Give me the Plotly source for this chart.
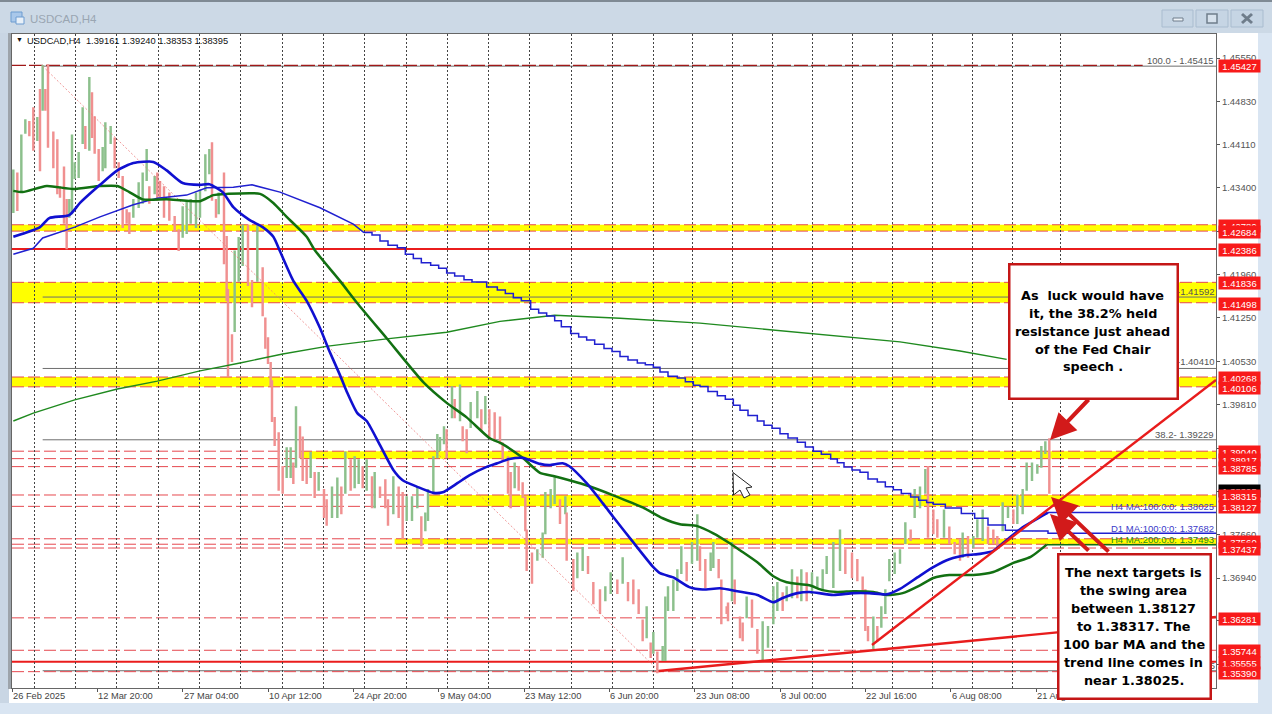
import plotly.graph_objects as go

W, H = 1272, 714
L, R, T, B = 12, 1216, 34, 688

# ---------- data ----------
bars = [1,4,7,10,13,16,19,21,23,25,27,31,34,36,39,41,43,45,47,50,53,55,58,60,62,65,68,70,74,77,80,83,86,88,91,95,98,101,103,107,109,111,114,118,122,125,128,131,134,138,141,145,148,150,153,155,159,161,162,165,167,170,173,177,180,184,188,190,192,194,195,197,200,203,206,209,211,213,216,218,221,224,227,230,234,236,240,244,247,250,254,257,260,263,266,270,272,276,280,282,286,290,293,296,300,304,307,310,312,316,319,321,324,326,330,332,336,338,341,344,349,352,355,358,362,366,368,372,374,377,380,383,385,386,390,394,398,400,404,407,411,415,416,421,424,428,432,436,441,445,449,454,458,462,466,470,473,476,479,481,484,488,490,492,496,499,502,506,510,514,516,520,524,526,530,532,536,537,540,542,546,548,551,555,559,563,567,571,574,578,581,585,589,592,596,600,604,608,611,616,621,625,630,634,638,640,642,646,649,652,655,658,662,666,670,674,677,681,685,687,691,694,699,703,707,711,713,717,721,724,728,732,736,739,743,747,751,754,758,761,765,769,772,775,778]
highs = [14369,14364,14427,14452,14449,14472,14456,14502,14542,14502,14543,14432,14419,14341,14374,14320,14320,14427,14381,14398,14472,14441,14522,14497,14457,14403,14406,14447,14441,14422,14381,14358,14303,14298,14320,14348,14364,14403,14341,14358,14364,14350,14341,14331,14292,14270,14308,14315,14320,14331,14336,14394,14403,14414,14320,14331,14364,14259,14171,14096,14235,14257,14278,14278,14186,14278,14207,14124,14091,14050,14020,13959,13934,13878,13909,13909,13884,13977,13944,13927,13889,13901,13868,13868,13840,13823,13844,13859,13844,13902,13889,13894,13889,13878,13889,13861,13868,13844,13856,13823,13861,13844,13835,13828,13828,13844,13795,13801,13840,13894,13931,13926,13944,13939,14010,13989,14013,13944,13939,13984,14002,13972,13994,13972,13967,13960,13917,13894,13868,13884,13878,13851,13828,13773,13735,13740,13768,13835,13840,13861,13823,13828,13801,13724,13735,13744,13729,13686,13674,13679,13702,13690,13727,13686,13690,13674,13624,13646,13586,13603,13571,13580,13662,13679,13690,13707,13745,13719,13752,13798,13745,13724,13735,13752,13724,13690,13646,13652,13752,13690,13629,13619,13662,13657,13608,13621,13613,13679,13686,13669,13679,13707,13695,13707,13702,13702,13695,13707,13729,13752,13773,13740,13735,13724,13695,13674,13613,13629,13613,13646,13674,13724,13735,13740,13785,13773,13840,13844,13873,13878,13806,13790,13806,13778,13752,13757,13768,13762,13762,13790,13806,13778,13773,13762,13818,13811,13806,13831,13840,13884,13884,13881,13911,13919,13924]
lows = [14300,14303,14336,14431,14427,14403,14419,14369,14469,14469,14408,14374,14331,14325,14282,14240,14292,14298,14356,14358,14414,14406,14403,14424,14398,14353,14369,14374,14414,14374,14358,14275,14282,14265,14292,14308,14315,14353,14315,14331,14320,14325,14292,14287,14270,14237,14259,14265,14282,14275,14292,14336,14364,14320,14292,14298,14215,14154,14028,14053,14103,14186,14212,14179,14144,14186,14129,14075,14050,14013,13954,13914,13840,13835,13861,13861,13851,13878,13894,13856,13851,13861,13828,13840,13795,13782,13795,13795,13801,13835,13840,13844,13851,13844,13840,13811,13811,13828,13811,13782,13801,13795,13760,13790,13790,13811,13748,13773,13790,13835,13894,13906,13917,13894,13960,13960,13955,13922,13902,13944,13960,13939,13950,13927,13922,13917,13889,13835,13811,13844,13840,13828,13773,13707,13686,13724,13729,13768,13811,13818,13785,13801,13724,13674,13695,13707,13702,13652,13636,13657,13669,13669,13686,13657,13652,13636,13591,13596,13563,13570,13538,13558,13558,13641,13641,13674,13702,13690,13719,13724,13707,13679,13707,13712,13695,13619,13636,13624,13657,13652,13596,13591,13629,13613,13570,13558,13580,13619,13641,13641,13657,13662,13662,13657,13657,13669,13679,13674,13702,13679,13707,13702,13695,13690,13674,13608,13591,13578,13591,13613,13636,13690,13702,13719,13752,13757,13795,13811,13835,13762,13768,13762,13762,13752,13735,13724,13729,13729,13745,13762,13757,13752,13752,13745,13773,13795,13785,13785,13801,13840,13856,13868,13878,13901,13835]

ma100_bars = [1,21,28,43,51,66,79,91,106,116,128,141,148,158,166,178,188,196,201,211,221,231,238,246,251,259,266,276,286,293,304,316,323,334,343,356,364,373,383,396,403,413,418,431,443,451,466,481,486,496,508,518,531,544,559,571,578,589,598,616,631,643,656,666,679,691,703,716,726,736,746,758,771,777]
ma100_vals = [14259,14275,14290,14295,14315,14345,14369,14381,14383,14369,14348,14345,14346,14333,14308,14287,14275,14259,14235,14186,14153,14108,14070,14030,14003,13967,13954,13914,13873,13856,13845,13835,13836,13851,13864,13878,13884,13891,13893,13883,13881,13884,13879,13851,13818,13795,13753,13712,13702,13695,13679,13675,13677,13672,13666,13654,13661,13669,13671,13666,13669,13669,13667,13676,13695,13712,13725,13732,13734,13739,13757,13778,13795,13802.5]
ma200_bars = [1,8,26,46,66,79,88,98,116,141,151,161,186,196,206,221,227,246,259,281,309,326,341,358,367,383,396,406,418,433,451,473,488,501,514,526,538,546,559,571,581,598,608,619,631,646,656,668,681,691,703,721,736,751,764,776]
ma200_vals = [14335,14333,14343,14338,14343,14343,14333,14321,14321,14318,14328,14330,14330,14315,14292,14259,14237,14186,14149,14091,14017,13984,13960,13926,13917,13893,13868,13863,13856,13846,13831,13811,13793,13783,13780,13768,13752,13740,13720,13697,13687,13682,13674,13671,13672,13671,13666,13669,13682,13694,13699,13699,13704,13719,13729,13749.3]
d1ma100_early_bars = [1,8,16,23,47,66,91,109,131,146,166,180,201,231,256,264]
d1ma100_early_vals = [14230,14235,14240,14257,14275,14292,14312,14323,14328,14340,14341,14345,14333,14307,14280,14266]
d1ma100_step_bars = [264,270,276,282,289,295,301,307,314,320,326,332,339,345,356,364,370,376,382,389,395,401,407,412,419,425,431,437,444,450,456,462,469,475,481,486,492,499,505,511,516,522,529,535,541,546,552,559,564,570,576,582,589,595,601,607,614,619,624,630,636,642,649,655,661,667,674,680,686,691,700,712,722,732,745,755,777]
d1ma100_step_vals = [14266,14262,14252,14245,14241,14230,14223,14216,14212,14207,14199,14194,14188,14184,14176,14171,14165,14158,14153,14139,14133,14128,14120,14110,14099,14093,14088,14081,14074,14069,14061,14055,14050,14047,14043,14035,14028,14025,14019,14013,14011,14003,13996,13990,13980,13972,13963,13954,13947,13942,13933,13926,13919,13911,13904,13899,13891,13885,13878,13873,13869,13858,13853,13845,13840,13834,13828,13823,13819,13816,13810,13801,13793,13782,13773,13772,13768.2]
d1ma200_bars = [1,16,47,79,109,141,171,203,237,281,326,366,407,456,516,591,666,711,746]
d1ma200_vals = [13954,13967,13989,14007,14020,14037,14050,14065,14078,14090,14101,14119,14129,14124,14116,14101,14085,14070,14056]

date_bars = [0,64,128,192,256,320,384,448,512,576,640,704,768]
date_labels = ["26 Feb 2025","12 Mar 20:00","27 Mar 04:00","10 Apr 12:00","24 Apr 20:00","9 May 04:00","23 May 12:00","6 Jun 20:00","23 Jun 08:00","8 Jul 00:00","22 Jul 16:00","6 Aug 08:00","21 Aug 00:00"]
grid_bars = [16.5,47.5,78.5,109.5,140.5,171.5,202.5,233.5,264.5,295.5,326.5,357,388.3,419.5,450.2,481.3,510.2,540.2,570.2,600.2,630.2,660.2,690.2,720.2,750.2,786]
price_ticks = [1.45550,1.44830,1.44110,1.43400,1.42680,1.41960,1.41250,1.40530,1.39810,1.39090,1.38380,1.37660,1.36940,1.36230,1.35510]

dashed_levels = [1.42789,1.42684,1.41836,1.41498,1.40268,1.40106,1.39040,1.38917,1.38785,1.38315,1.38127,1.37590,1.37500,1.37437,1.36281,1.35744,1.35390]
top_level = 1.45427
solid_levels = [1.42386,1.35555]
bands = [(1.42789,1.42684,0),(1.41836,1.41498,0),(1.40268,1.40106,0),(1.39040,1.38917,216),(1.38315,1.38127,313),(1.37590,1.37500,287)]
fib_levels = [1.45415,1.41592,1.40410,1.39229,1.35405]
red_labels = [1.45427,1.42789,1.42684,1.42386,1.41836,1.41498,1.40268,1.40106,1.39040,1.38917,1.38785,1.38315,1.38127,1.37560,1.37437,1.36281,1.35744,1.35555,1.35390]
current_price = 1.38395
note1 = ["As\u00a0 luck would have","it, the 38.2% held","resistance just ahead","of the Fed Chair","speech ."]
note2 = ["The next targets is","the swing area","between 1.38127","to 1.38317. The","100 bar MA and the","trend line comes in","near 1.38025."]

# ---------- scales ----------
XMAX = (R - L) * 0.75
def price_at(y):
    return 1.4555 - (y - 58) / 6040
def px(x):
    return (x - L) / (R - L)
def py(y):
    return (B - y) / (B - T)
def p4(v):
    return [a / 10000 for a in v]

hi, lo = p4(highs), p4(lows)
opens, closes = [], []
prev = None
for h, l in zip(hi, lo):
    mid = (h + l) / 2
    if prev is None or mid >= prev:
        opens.append(l); closes.append(h)
    else:
        opens.append(h); closes.append(l)
    prev = mid

fig = go.Figure()
fig.add_trace(go.Candlestick(
    x=bars, open=opens, high=hi, low=lo, close=closes,
    increasing=dict(line=dict(color="#8cc08c", width=1.8), fillcolor="#8cc08c"),
    decreasing=dict(line=dict(color="#f09090", width=1.8), fillcolor="#f09090"),
    whiskerwidth=0, hoverinfo="skip", showlegend=False))

def line(x, y, color, width, dash=None, shape="linear", smoothing=None):
    ln = dict(color=color, width=width, dash=dash, shape=shape)
    if smoothing is not None:
        ln["smoothing"] = smoothing
    fig.add_trace(go.Scatter(x=x, y=y, mode="lines", hoverinfo="skip", showlegend=False, line=ln))

# fib retracement diagonal
line([23, 485], [1.45415, 1.35405], "rgba(235,120,120,0.75)", 1, "2px,2px")
line(d1ma200_bars, p4(d1ma200_vals), "#1f8a1f", 1.4)
line(d1ma100_early_bars, p4(d1ma100_early_vals), "#2020d0", 1.5)
line(d1ma100_step_bars + [XMAX], p4(d1ma100_step_vals) + [1.37682], "#2020d0", 1.5, shape="hv")
line(ma200_bars, p4(ma200_vals), "#127012", 2.5, shape="spline", smoothing=0.6)
line(ma100_bars, p4(ma100_vals), "#1010d0", 2.6, shape="spline", smoothing=0.6)
line([ma100_bars[-1], XMAX], [1.38025, 1.38025], "#2020d0", 1.5)
line([ma200_bars[-1], XMAX], [1.37493, 1.37493], "#127012", 1.5)
# trend lines
line([485, XMAX], [price_at(671), price_at(617)], "#e81c1c", 2.4)
line([645, XMAX], [price_at(645), price_at(380)], "#e81c1c", 2.4)

# ---------- shapes ----------
shapes = []
def rect(x0, y0, x1, y1, fill, lc=None, lw=0, layer="below"):
    shapes.append(dict(type="rect", xref="paper", yref="paper", x0=px(x0), x1=px(x1), y0=py(y0), y1=py(y1),
                       fillcolor=fill, line=dict(color=lc or fill, width=lw), layer=layer))
def seg(x0, y0, x1, y1, color, lw=1.5):
    shapes.append(dict(type="line", xref="paper", yref="paper", x0=px(x0), x1=px(x1), y0=py(y0), y1=py(y1),
                       line=dict(color=color, width=lw), layer="above"))

# window chrome
rect(0, 0, W, 2, "#7f8a94")
rect(0, 2, W, 33, "#ccd9e6")
rect(0, 33, 11, H, "#c9d6e4")
rect(1258, 33, W, H, "#d9e5f2")
rect(0, 703, W, H, "#d9e5f2")
rect(9, 33, 1258, 703, "#ffffff")
rect(8, 33, 11, 689, "#9da4ab")
# title icon
rect(11, 12, 22, 22, "#a9c8ea", "#6c9cd0", 1)
rect(16, 17, 24, 24, "#e8f0f8", "#6c9cd0", 1)
# buttons
rect(1162, 10, 1193, 27, "#c6d5e4", "#a9bccf", 1)
rect(1196, 10, 1228, 27, "#c6d5e4", "#a9bccf", 1)
rect(1231, 10, 1263, 27, "#c6d5e4", "#a9bccf", 1)
rect(1173, 18, 1183, 21, "#eef3f8", "#6f7d8b", 1, "above")
rect(1207, 14, 1217, 23, "#d6e1ec", "#6f7d8b", 1.5, "above")
seg(1242, 14, 1252, 23, "#6f7d8b", 3)
seg(1252, 14, 1242, 23, "#6f7d8b", 3)

for top, bot, start in bands:
    shapes.append(dict(type="rect", xref="x", yref="y", x0=start, x1=XMAX, y0=bot, y1=top,
                       fillcolor="#ffff00", line=dict(width=0), layer="below"))
for lv in fib_levels:
    shapes.append(dict(type="line", xref="x", yref="y", x0=23, x1=XMAX, y0=lv, y1=lv,
                       line=dict(color="#6e6e6e", width=1), layer="below"))
for lv in dashed_levels:
    shapes.append(dict(type="line", xref="x", yref="y", x0=0, x1=XMAX, y0=lv, y1=lv,
                       line=dict(color="#e6484f", width=1, dash="12px,4px"), layer="below"))
shapes.append(dict(type="line", xref="x", yref="y", x0=0, x1=848, y0=top_level, y1=top_level,
                   line=dict(color="#a01818", width=1.3, dash="14px,3px"), layer="below"))
for lv in solid_levels:
    shapes.append(dict(type="line", xref="x", yref="y", x0=0, x1=XMAX, y0=lv, y1=lv,
                       line=dict(color="#ea1c1c", width=2), layer="below"))
# mouse cursor
cur = [(733, 472.5), (733.5, 495), (740, 490), (744, 498), (750, 495), (746, 488), (752, 487)]
path = "M " + " L ".join(f"{px(a):.5f},{py(b):.5f}" for a, b in cur) + " Z"
shapes.append(dict(type="path", xref="paper", yref="paper", path=path, fillcolor="#ffffff",
                   line=dict(color="#222222", width=1), layer="above"))

# ---------- annotations ----------
ann = []
FONT = "Liberation Sans"
def text(s, x, y, size=9.5, color="#444444", anchor="left", family=FONT, yref="paper", bold=False):
    ann.append(dict(text=f"<b>{s}</b>" if bold else s, x=px(x), y=py(y) if yref == "paper" else y, xref="paper", yref=yref,
                    xanchor=anchor, yanchor="middle", showarrow=False, borderpad=0,
                    font=dict(family=family, size=size, color=color)))

text("USDCAD,H4", 29, 19, 11.5, "#9aa6b2")
text("\u25BC", 15, 40, 7, "#111111")
text("USDCAD,H4  1.39161 1.39240 1.38353 1.38395", 26, 40.5, 9.3, "#111111")
for b, s in zip(date_bars, date_labels):
    ann.append(dict(text=s, x=b, y=py(696), xref="x", yref="paper", xanchor="left", yanchor="middle",
                    showarrow=False, borderpad=0, font=dict(family=FONT, size=9.3, color="#444444")))
text("100.0 - 1.45415", 1215, 60, 9.5, "#555555", "right")
text("38.2- 1.39229", 1215, 434, 9.5, "#555555", "right")
text("-1.41592", 1216, 291, 9.5, "#555555", "right")
text("-1.40410", 1216, 362, 9.5, "#555555", "right")
text("0.0 - 1.35405", 1216, 665, 9.5, "#555555", "right")
text("H4 MA:100:0:0: 1.38025", 1215, 507, 9.5, "#3a3ac8", "right")
text("D1 MA:100:0:0: 1.37682", 1215, 528, 9.5, "#3a3ac8", "right")
text("H4 MA:200:0:0: 1.37493", 1215, 539, 9.5, "#1f8a1f", "right")

def price_label(v, bg):
    ann.append(dict(text=f"{v:.5f}", x=px(1217.5), y=v, xref="paper", yref="y", xanchor="left", yanchor="middle",
                    showarrow=False, bgcolor=bg, borderpad=0, width=41, height=12, align="center", yshift=-1,
                    font=dict(family=FONT, size=9.5, color="#ffffff")))
price_label(current_price, "#000000")
for v in red_labels:
    price_label(v, "#f81a1a")

def arrow(x0, y0, x1, y1):
    ann.append(dict(text="", x=(x1 - L) * 0.75, y=price_at(y1), xref="x", yref="y",
                    ax=(x0 - L) * 0.75, ay=price_at(y0), axref="x", ayref="y", showarrow=True,
                    arrowhead=2, arrowsize=1.3, arrowwidth=4, arrowcolor="#d21a1a", standoff=0))
arrow(1090, 398, 1050, 440)
arrow(1110, 553, 1051, 497)
arrow(1090, 552, 1050, 514)

def box(x0, y0, x1, y1, lines, ystart, step, xc):
    ann.append(dict(text=" ", x=px(x0), y=py(y0), xref="paper", yref="paper", xanchor="left", yanchor="top",
                    showarrow=False, width=x1 - x0 - 3, height=y1 - y0 - 3, bgcolor="#ffffff",
                    bordercolor="#c41616", borderwidth=2.5, borderpad=0))
    for i, s in enumerate(lines):
        text(s, xc, ystart + i * step, 12.8, "#000000", "center", "DejaVu Sans", bold=True)

box(1008, 263, 1177, 398, note1, 295, 18, 1092.5)
box(1057, 553, 1210, 698, note2, 572, 18, 1133.5)

fig.update_layout(
    width=W, height=H, autosize=False,
    margin=dict(l=L, r=W - R, t=T, b=H - B, pad=0),
    paper_bgcolor="#d9e5f2", plot_bgcolor="#ffffff",
    showlegend=False, hovermode=False, dragmode=False,
    shapes=shapes, annotations=ann,
    xaxis=dict(range=[0, XMAX], rangeslider=dict(visible=False), tickmode="array", tickvals=date_bars,
               ticktext=[""] * len(date_bars), ticks="outside", ticklen=3, tickcolor="#555555",
               showgrid=False, zeroline=False, showline=True, linecolor="#666666", linewidth=1, mirror=True,
               minor=dict(tickmode="array", tickvals=grid_bars, showgrid=True, gridcolor="#444444",
                          griddash="2px,2px", gridwidth=1, ticks="")),
    yaxis=dict(range=[price_at(B), price_at(T)], side="right", tickmode="array", tickvals=price_ticks,
               ticktext=[f"{v:.5f}" for v in price_ticks], ticks="outside", ticklen=3, tickcolor="#555555",
               tickfont=dict(family=FONT, size=9.5, color="#555555"),
               showgrid=False, zeroline=False, showline=True, linecolor="#666666", linewidth=1, mirror=True),
)
fig.write_html("out.html", config=dict(displayModeBar=False),
               post_script="document.body.style.margin='0';document.documentElement.style.overflow='hidden';")
